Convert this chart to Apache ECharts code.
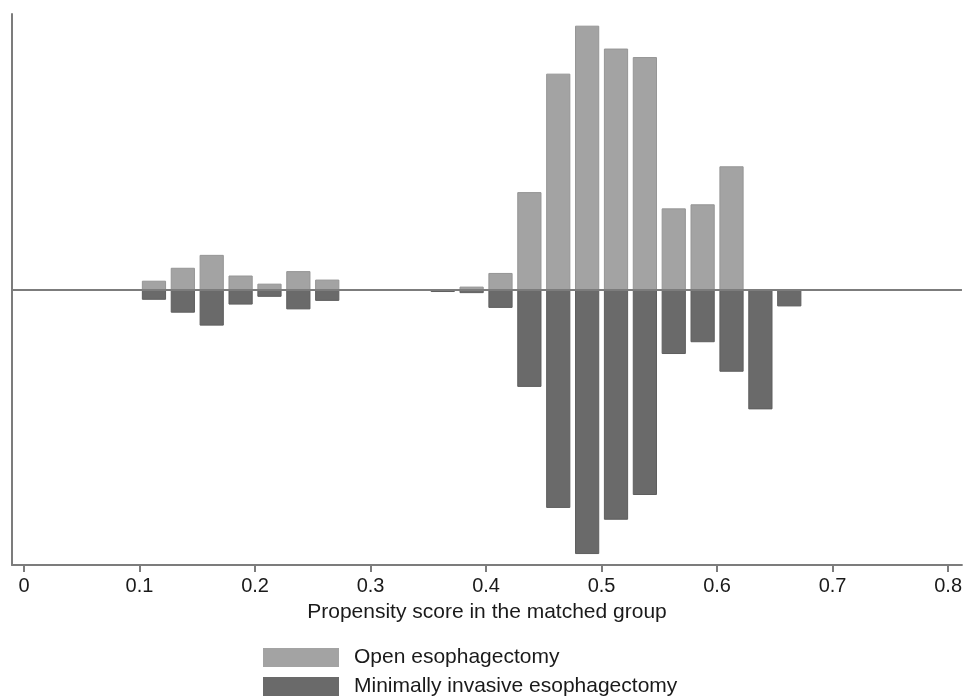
<!DOCTYPE html>
<html>
<head>
<meta charset="utf-8">
<script src="https://cdn.jsdelivr.net/npm/echarts@6/dist/echarts.min.js"></script>
<style>html,body{margin:0;padding:0;background:#fff}#c{width:965px;height:697px}</style>
</head>
<body>
<div id="c"></div>
<script>
// Bin centers of the propensity score histogram (bin width 0.025)
const binCenters = [0.1125,0.1375,0.1625,0.1875,0.2125,0.2375,0.2625,0.2875,0.3125,0.3375,0.3625,0.3875,0.4125,0.4375,0.4625,0.4875,0.5125,0.5375,0.5625,0.5875,0.6125,0.6375,0.6625];
// Density, open esophagectomy (upward)
const openValues = [0.24,0.59,0.94,0.38,0.16,0.50,0.27,0,0,0,0,0.08,0.45,2.64,5.85,7.15,6.53,6.30,2.20,2.31,3.34,0,0];
// Density, minimally invasive esophagectomy (downward)
const mieValues = [-0.25,-0.60,-0.95,-0.38,-0.17,-0.51,-0.28,0,0,0,-0.04,-0.07,-0.47,-2.61,-5.89,-7.14,-6.21,-5.54,-1.72,-1.40,-2.20,-3.22,-0.43];
const xTickValues = [0,0.1,0.2,0.3,0.4,0.5,0.6,0.7,0.8];
const seriesNames = ['Open esophagectomy','Minimally invasive esophagectomy'];

const FONT = '"Liberation Sans", Arial, Helvetica, sans-serif';
const halfBar = 0.01005;

function makeRender(fill, stroke) {
  return function (params, api) {
    const x = api.value(0), v = api.value(1);
    if (!v) return null;
    const p0 = api.coord([x - halfBar, 0]);
    const p1 = api.coord([x + halfBar, v]);
    return {
      type: 'rect',
      shape: { x: p0[0], y: Math.min(p0[1], p1[1]), width: p1[0] - p0[0], height: Math.abs(p1[1] - p0[1]) },
      style: { fill: fill, stroke: stroke, lineWidth: 1 }
    };
  };
}

function legendFor(name, top) {
  return {
    orient: 'vertical', left: 263, top: top, padding: 0,
    itemWidth: 76, itemHeight: 19,
    icon: 'rect',
    data: [name],
    textStyle: { color: '#1a1a1a', fontSize: 21, fontFamily: FONT, padding: [0, 0, 0, 10] }
  };
}

const chart = echarts.init(document.getElementById('c'), null, { renderer: 'canvas' });
chart.setOption({
  animation: false,
  backgroundColor: '#ffffff',
  grid: { left: 12, right: 0, top: 14, height: 551 },
  xAxis: {
    type: 'value', min: -0.0104, max: 0.812,
    splitLine: { show: false },
    axisLine: { show: true, onZero: false, lineStyle: { color: '#7c7c7c', width: 2 } },
    axisTick: { show: true, customValues: xTickValues, length: 7, lineStyle: { color: '#7c7c7c', width: 2 } },
    axisLabel: { customValues: xTickValues, margin: 11, color: '#1a1a1a', fontSize: 20, fontFamily: FONT,
      formatter: v => String(Math.round(v * 10) / 10) },
    name: 'Propensity score in the matched group',
    nameLocation: 'middle', nameGap: 37,
    nameTextStyle: { color: '#1a1a1a', fontSize: 21, fontFamily: FONT }
  },
  yAxis: {
    type: 'value', min: -7.45, max: 7.48,
    splitLine: { show: false },
    axisLine: { show: true, onZero: false, lineStyle: { color: '#7c7c7c', width: 2 } },
    axisTick: { show: false }, axisLabel: { show: false }
  },
  legend: [legendFor(seriesNames[0], 647), legendFor(seriesNames[1], 676)],
  series: [
    {
      name: seriesNames[0], type: 'custom',
      itemStyle: { color: '#a3a3a3' },
      renderItem: makeRender('#a3a3a3', '#959595'),
      data: binCenters.map((c, i) => [c, openValues[i]]),
      z: 2
    },
    {
      name: seriesNames[1], type: 'custom',
      itemStyle: { color: '#6a6a6a' },
      renderItem: makeRender('#6a6a6a', '#5e5e5e'),
      data: binCenters.map((c, i) => [c, mieValues[i]]),
      z: 2,
      markLine: {
        silent: true, symbol: 'none', label: { show: false },
        lineStyle: { color: '#7c7c7c', width: 2, type: 'solid' },
        data: [{ yAxis: 0 }],
        z: 5
      }
    }
  ]
});
</script>
</body>
</html>
